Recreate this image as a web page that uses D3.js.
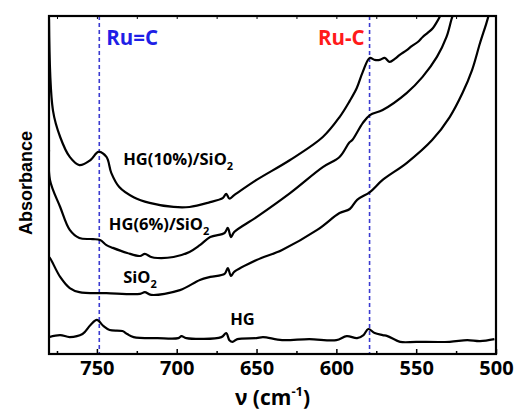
<!DOCTYPE html>
<html>
<head>
<meta charset="utf-8">
<script src="https://cdn.jsdelivr.net/npm/d3@7"></script>
<style>
  body { margin: 0; background: #fff; }
  svg { display: block; }
  .lbl { font-family: "Open Sans", sans-serif; font-weight: bold; }
</style>
</head>
<body>
<div id="chart"></div>
<script>
// wavenumber (cm-1) / absorbance (a.u.)
const hg10 = [
  [780, 0.99], [777.5, 0.72], [773, 0.642], [767, 0.583], [761, 0.559], [754, 0.574],
  [749, 0.598], [744, 0.583], [741, 0.536], [736, 0.494], [727, 0.464], [717, 0.447],
  [702, 0.435], [692, 0.435], [680, 0.448], [671, 0.462], [669, 0.474], [667, 0.46],
  [664, 0.47], [650, 0.515], [629, 0.574], [608.5, 0.642], [598, 0.701], [591.6, 0.749],
  [587.2, 0.787], [583.5, 0.834], [579.1, 0.876], [576, 0.87], [572.8, 0.87], [569.7, 0.876],
  [566.6, 0.864], [563.4, 0.873], [560.3, 0.885], [555.9, 0.899], [552.8, 0.911],
  [549, 0.923], [545.9, 0.938], [542.8, 0.95], [539.6, 0.964], [537.1, 0.982],
  [535.3, 0.997], [532, 1.03]
];
const hg6 = [
  [780, 0.604], [779.4, 0.515], [773, 0.435], [767, 0.367], [761, 0.343], [752.5, 0.34],
  [748, 0.337], [744, 0.322], [740, 0.314], [731, 0.299], [723, 0.29], [720, 0.296],
  [716, 0.287], [712, 0.284], [702, 0.287], [692, 0.302], [685.5, 0.322], [679, 0.346],
  [670, 0.358], [668, 0.373], [666, 0.346], [664, 0.361], [650, 0.405], [629, 0.476],
  [608.5, 0.553], [598, 0.583], [592, 0.625], [590, 0.633], [583.5, 0.683], [579, 0.707],
  [571, 0.722], [556, 0.772], [546, 0.82], [537, 0.879], [531, 0.938], [528, 0.988],
  [526, 1.02]
];
const sio2 = [
  [780, 0.287], [779, 0.281], [773, 0.228], [767, 0.195], [761, 0.183], [744, 0.18],
  [723, 0.178], [720, 0.183], [716, 0.175], [698, 0.189], [685.5, 0.219], [679, 0.228],
  [670, 0.237], [668, 0.254], [666, 0.231], [664, 0.243], [650, 0.278], [634, 0.308],
  [612, 0.367], [598, 0.417], [591.6, 0.429], [587, 0.456], [579, 0.479], [571, 0.515],
  [556, 0.565], [540, 0.633], [529, 0.701], [521, 0.772], [515, 0.84], [510, 0.92],
  [506, 0.979], [504, 1.012]
];
const hg = [
  [780, 0.05], [773, 0.056], [767, 0.05], [759, 0.059], [754, 0.086], [750, 0.101],
  [746, 0.083], [742, 0.071], [734, 0.068], [731, 0.059], [727, 0.05], [712, 0.047],
  [699, 0.047], [697, 0.053], [694, 0.047], [672, 0.05], [669, 0.062], [667, 0.041],
  [665, 0.036], [662, 0.044], [650, 0.047], [646, 0.05], [634, 0.041], [617, 0.044],
  [600, 0.041], [593.5, 0.053], [587, 0.047], [583, 0.056], [580, 0.074], [576, 0.062],
  [571, 0.056], [568, 0.053], [560, 0.036], [550, 0.036], [529, 0.036], [518, 0.041],
  [510, 0.038], [501, 0.044]
];
const seriesList = [hg10, hg6, sio2, hg];

const xTicks = [750, 700, 650, 600, 550, 500];
const xMinor = [775, 725, 675, 625, 575, 525];
const markers = [
  {nu: 748.5, text: "Ru=C", color: "#1f1fe6"},
  {nu: 579.2, text: "Ru-C", color: "#ff1a1a"}
];
const curveLabels = [
  {main: "HG(10%)/SiO", sub: "2", nu: 733.5, a: 0.558},
  {main: "HG(6%)/SiO", sub: "2", nu: 742.5, a: 0.367},
  {main: "SiO", sub: "2", nu: 733.5, a: 0.210},
  {main: "HG", sub: "", nu: 666.5, a: 0.086}
];

const W = 514, H = 412;
const margin = {top: 16, right: 18, bottom: 58, left: 49};
const width = W - margin.left - margin.right;
const height = H - margin.top - margin.bottom;

const svg = d3.select("#chart").append("svg")
  .attr("width", W).attr("height", H);

const g = svg.append("g")
  .attr("transform", `translate(${margin.left},${margin.top})`);

const x = d3.scaleLinear().domain([780, 500]).range([0, width]);
const y = d3.scaleLinear().domain([0, 1]).range([height, 0]);

g.append("clipPath").attr("id", "clip")
  .append("rect").attr("width", width).attr("height", height);

// dashed marker lines
markers.forEach(m => {
  g.append("line")
    .attr("x1", x(m.nu)).attr("x2", x(m.nu))
    .attr("y1", 0).attr("y2", height)
    .attr("stroke", "#3b3bd0")
    .attr("stroke-width", 1.6)
    .attr("stroke-dasharray", "4,3");
});

const line = d3.line()
  .x(d => x(d[0]))
  .y(d => y(d[1]))
  .curve(d3.curveCatmullRom.alpha(0.5));

g.append("g").attr("clip-path", "url(#clip)")
  .selectAll("path")
  .data(seriesList)
  .join("path")
  .attr("d", line)
  .attr("fill", "none")
  .attr("stroke", "#000")
  .attr("stroke-width", 2.2)
  .attr("stroke-linejoin", "round");

// axes
const xAxis = g.append("g")
  .attr("transform", `translate(0,${height})`)
  .call(d3.axisBottom(x).tickValues(xTicks).tickSizeInner(-5).tickSizeOuter(0).tickPadding(7));
xAxis.select(".domain").remove();
xAxis.selectAll("line").attr("stroke-width", 1.5);
xAxis.selectAll("text")
  .attr("class", "lbl")
  .style("font-size", "20px")
  .attr("fill", "#000");

const xMin = g.append("g")
  .attr("transform", `translate(0,${height})`)
  .call(d3.axisBottom(x).tickValues(xMinor).tickSize(-3).tickFormat(""));
xMin.select(".domain").remove();
xMin.selectAll("line").attr("stroke-width", 1.5);

const xTop = g.append("g")
  .call(d3.axisTop(x).tickValues(xTicks.concat(xMinor)).tickSize(-3).tickFormat(""));
xTop.select(".domain").remove();
xTop.selectAll("line").attr("stroke-width", 1);

// frame
g.append("rect")
  .attr("width", width).attr("height", height)
  .attr("fill", "none")
  .attr("stroke", "#000")
  .attr("stroke-width", 2.2);

// marker labels
markers.forEach((m, i) => {
  g.append("text")
    .attr("class", "lbl")
    .attr("x", i === 0 ? x(m.nu) + 7 : x(m.nu) - 5)
    .attr("y", 29)
    .attr("text-anchor", i === 0 ? "start" : "end")
    .style("font-size", "20.5px")
    .attr("fill", m.color)
    .text(m.text);
});

// curve labels
curveLabels.forEach(c => {
  const t = g.append("text")
    .attr("class", "lbl")
    .attr("x", x(c.nu))
    .attr("y", y(c.a))
    .style("font-size", "16.5px")
    .attr("fill", "#000");
  t.append("tspan").text(c.main);
  if (c.sub) {
    t.append("tspan").attr("dy", 5).style("font-size", "11px").text(c.sub);
  }
});

// axis titles
svg.append("text")
  .attr("transform", `translate(32,${183}) rotate(-90)`)
  .attr("text-anchor", "middle")
  .style("font-family", "'Liberation Sans', Arial, sans-serif")
  .style("font-weight", "bold")
  .style("font-size", "18px")
  .text("Absorbance");

const xt = svg.append("text")
  .attr("class", "lbl")
  .attr("x", margin.left + width / 2)
  .attr("y", 405)
  .attr("text-anchor", "middle")
  .style("font-size", "21px");
xt.append("tspan").text("\u03BD (cm");
xt.append("tspan").attr("dy", -9).style("font-size", "13px").text("-1");
xt.append("tspan").attr("dy", 9).text(")");
</script>
</body>
</html>
